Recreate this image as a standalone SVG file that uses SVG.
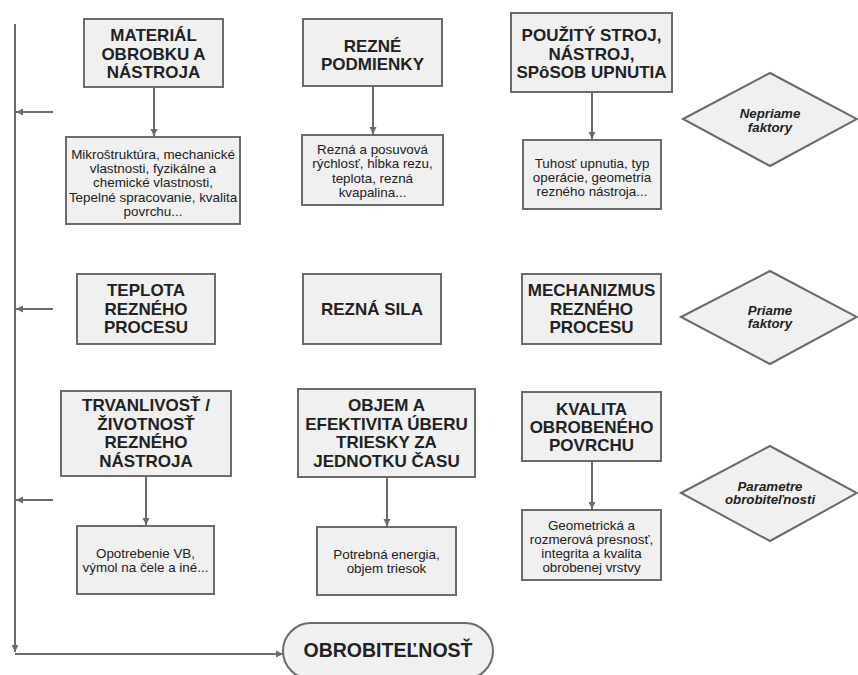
<svg xmlns="http://www.w3.org/2000/svg" width="858" height="675" viewBox="0 0 858 675">
<style>
.box{fill:#f0f0f0;stroke:#6b6b6b;stroke-width:2}
.h{font-family:"Liberation Sans",Arial,sans-serif;font-weight:bold;font-size:17px;fill:#222;text-anchor:middle}
.d{font-family:"Liberation Sans",Arial,sans-serif;font-size:13.4px;fill:#222;text-anchor:middle}
.q{font-family:"Liberation Sans",Arial,sans-serif;font-weight:bold;font-style:italic;font-size:13.3px;fill:#222;text-anchor:middle}
.t{font-family:"Liberation Sans",Arial,sans-serif;font-weight:bold;font-size:19.5px;fill:#222;text-anchor:middle}
.c{fill:none;stroke:#6b6b6b;stroke-width:2}
</style>
<defs>
<marker id="ah" viewBox="0 0 10 10" refX="10" refY="5" markerWidth="3.5" markerHeight="4" orient="auto" markerUnits="strokeWidth">
<path d="M0,0 L10,5 L0,10 z" fill="#6b6b6b"/>
</marker>
</defs>
<rect width="858" height="675" fill="#fff"/>
<g id="connectors">
<path class="c" d="M15,24 V652" marker-end="url(#ah)"/>
<path class="c" d="M15,654 H283" marker-end="url(#ah)"/>
<path class="c" d="M53,112 H16" marker-end="url(#ah)"/>
<path class="c" d="M53,309 H16" marker-end="url(#ah)"/>
<path class="c" d="M53,500 H16" marker-end="url(#ah)"/>
<path class="c" d="M154,87 V136" marker-end="url(#ah)"/>
<path class="c" d="M373,86 V134" marker-end="url(#ah)"/>
<path class="c" d="M592,92 V139" marker-end="url(#ah)"/>
<path class="c" d="M146,476 V525" marker-end="url(#ah)"/>
<path class="c" d="M387,477 V526" marker-end="url(#ah)"/>
<path class="c" d="M592,461 V509" marker-end="url(#ah)"/>
</g>
<g id="n1">
<rect class="box" x="84" y="19" width="139" height="68"/>
<text class="h" x="153.5" y="41">MATERIÁL</text>
<text class="h" x="153.5" y="59.5">OBROBKU A</text>
<text class="h" x="153.5" y="78">NÁSTROJA</text>
</g>
<g id="n1d">
<rect class="box" x="66" y="137" width="174" height="87"/>
<text class="d" x="153" y="158.5">Mikroštruktúra, mechanické</text>
<text class="d" x="153" y="172.5">vlastnosti, fyzikálne a</text>
<text class="d" x="153" y="187">chemické vlastnosti,</text>
<text class="d" x="153" y="201.5">Tepelné spracovanie, kvalita</text>
<text class="d" x="153" y="215.5">povrchu...</text>
</g>
<g id="n2">
<rect class="box" x="303" y="19" width="139" height="67"/>
<text class="h" x="372.5" y="52">REZNÉ</text>
<text class="h" x="372.5" y="69.5">PODMIENKY</text>
</g>
<g id="n2d">
<rect class="box" x="302" y="135" width="141" height="70"/>
<text class="d" x="372.5" y="153.5">Rezná a posuvová</text>
<text class="d" x="372.5" y="168">rýchlosť, hĺbka rezu,</text>
<text class="d" x="372.5" y="182.5">teplota, rezná</text>
<text class="d" x="372.5" y="197">kvapalina...</text>
</g>
<g id="n3">
<rect class="box" x="511" y="13" width="161" height="79"/>
<text class="h" x="591.5" y="41">POUŽITÝ STROJ,</text>
<text class="h" x="591.5" y="59.5">NÁSTROJ,</text>
<text class="h" x="591.5" y="78">SPôSOB UPNUTIA</text>
</g>
<g id="n3d">
<rect class="box" x="523" y="140" width="138" height="69"/>
<text class="d" x="592" y="167.5">Tuhosť upnutia, typ</text>
<text class="d" x="592" y="181.5">operácie, geometria</text>
<text class="d" x="592" y="195.5">rezného nástroja...</text>
</g>
<g id="dia1">
<polygon class="box" points="683,119 770,73 857,119 770,166"/>
<text class="q" x="770" y="117.5">Nepriame</text>
<text class="q" x="770" y="132">faktory</text>
</g>
<g id="n4">
<rect class="box" x="77" y="274" width="138" height="70"/>
<text class="h" x="146" y="296">TEPLOTA</text>
<text class="h" x="146" y="314.5">REZNÉHO</text>
<text class="h" x="146" y="333">PROCESU</text>
</g>
<g id="n5">
<rect class="box" x="303" y="274" width="138" height="70"/>
<text class="h" x="372" y="315">REZNÁ SILA</text>
</g>
<g id="n6">
<rect class="box" x="522" y="274" width="139" height="70"/>
<text class="h" x="591.5" y="296">MECHANIZMUS</text>
<text class="h" x="591.5" y="314.5">REZNÉHO</text>
<text class="h" x="591.5" y="333">PROCESU</text>
</g>
<g id="dia2">
<polygon class="box" points="681,317 770,271 857,317 770,364"/>
<text class="q" x="770" y="314.5">Priame</text>
<text class="q" x="770" y="328">faktory</text>
</g>
<g id="n7">
<rect class="box" x="61" y="391" width="170" height="85"/>
<text class="h" x="146" y="411">TRVANLIVOSŤ /</text>
<text class="h" x="146" y="429.5">ŽIVOTNOSŤ</text>
<text class="h" x="146" y="448">REZNÉHO</text>
<text class="h" x="146" y="467">NÁSTROJA</text>
</g>
<g id="n7d">
<rect class="box" x="77" y="526" width="137" height="68"/>
<text class="d" x="145.5" y="557.5">Opotrebenie VB,</text>
<text class="d" x="145.5" y="572">výmol na čele a iné...</text>
</g>
<g id="n8">
<rect class="box" x="298" y="389" width="177" height="88"/>
<text class="h" x="386.5" y="411">OBJEM A</text>
<text class="h" x="386.5" y="429.5">EFEKTIVITA ÚBERU</text>
<text class="h" x="386.5" y="448">TRIESKY ZA</text>
<text class="h" x="386.5" y="467">JEDNOTKU ČASU</text>
</g>
<g id="n8d">
<rect class="box" x="317" y="527" width="139" height="68"/>
<text class="d" x="386.5" y="558.5">Potrebná energia,</text>
<text class="d" x="386.5" y="572.5">objem triesok</text>
</g>
<g id="n9">
<rect class="box" x="522" y="392" width="139" height="69"/>
<text class="h" x="591.5" y="415">KVALITA</text>
<text class="h" x="591.5" y="433">OBROBENÉHO</text>
<text class="h" x="591.5" y="451">POVRCHU</text>
</g>
<g id="n9d">
<rect class="box" x="522" y="510" width="139" height="70"/>
<text class="d" x="591.5" y="529.5">Geometrická a</text>
<text class="d" x="591.5" y="543.5">rozmerová presnosť,</text>
<text class="d" x="591.5" y="557.5">integrita a kvalita</text>
<text class="d" x="591.5" y="571.5">obrobenej vrstvy</text>
</g>
<g id="dia3">
<polygon class="box" points="681,493 770,446 857,493 770,541"/>
<text class="q" x="770" y="490.5">Parametre</text>
<text class="q" x="770" y="504">obrobiteľnosti</text>
</g>
<g id="end">
<rect class="box" x="283" y="623" width="210" height="56" rx="28"/>
<text class="t" x="388" y="657">OBROBITEĽNOSŤ</text>
</g>
</svg>
